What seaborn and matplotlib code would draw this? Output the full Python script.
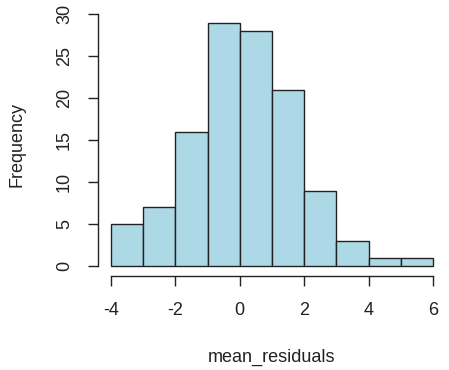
import matplotlib
matplotlib.use("Agg")
import matplotlib.pyplot as plt
import seaborn as sns
import numpy as np
import pandas as pd

bin_edges = [-4, -3, -2, -1, 0, 1, 2, 3, 4, 5, 6]
counts = [5, 7, 16, 29, 28, 21, 9, 3, 1, 1]
x_ticks = [-4, -2, 0, 2, 4, 6]
y_ticks = [0, 5, 10, 15, 20, 25, 30]

sns.set_style("white")
plt.rcParams['font.family'] = ['Liberation Sans', 'DejaVu Sans']
plt.rcParams['axes.unicode_minus'] = False

centers = [(a + b) / 2 for a, b in zip(bin_edges[:-1], bin_edges[1:])]
df = pd.DataFrame({"mean_residuals": centers, "w": counts})

fig = plt.figure(figsize=(4.49, 3.70), dpi=100)
ax = fig.add_axes([98/449, 1-276/370, (446-98)/449, (276-13)/370])

sns.histplot(data=df, x="mean_residuals", weights="w", bins=bin_edges,
             color="#ADD8E6", edgecolor="#222222", linewidth=1.0, alpha=1.0, ax=ax)

ax.set_xlim(-4.4, 6.4)
ax.set_ylim(-1.16, 30.16)
ax.set_xticks(x_ticks)
ax.set_xticklabels([str(v) for v in x_ticks])
ax.set_yticks(y_ticks)
ax.set_yticklabels([str(v) for v in y_ticks], rotation=90, va="center")
for s in ["top", "right"]:
    ax.spines[s].set_visible(False)
ax.spines["left"].set_bounds(0, 30)
ax.spines["bottom"].set_bounds(-4, 6)
for s in ["left", "bottom"]:
    ax.spines[s].set_color("#222222")
    ax.spines[s].set_linewidth(1.0)
ax.tick_params(axis="both", which="both", direction="out", length=7, width=1.0,
               color="#222222", labelsize=13, labelcolor="#222222",
               left=True, bottom=True)
ax.tick_params(axis="x", pad=12)
ax.tick_params(axis="y", pad=11)
ax.set_xlabel("mean_residuals", fontsize=13, color="#222222", labelpad=21)
ax.set_ylabel("Frequency", fontsize=13, color="#222222", labelpad=22)
ax.grid(False)

fig.savefig("out.png", dpi=100)
